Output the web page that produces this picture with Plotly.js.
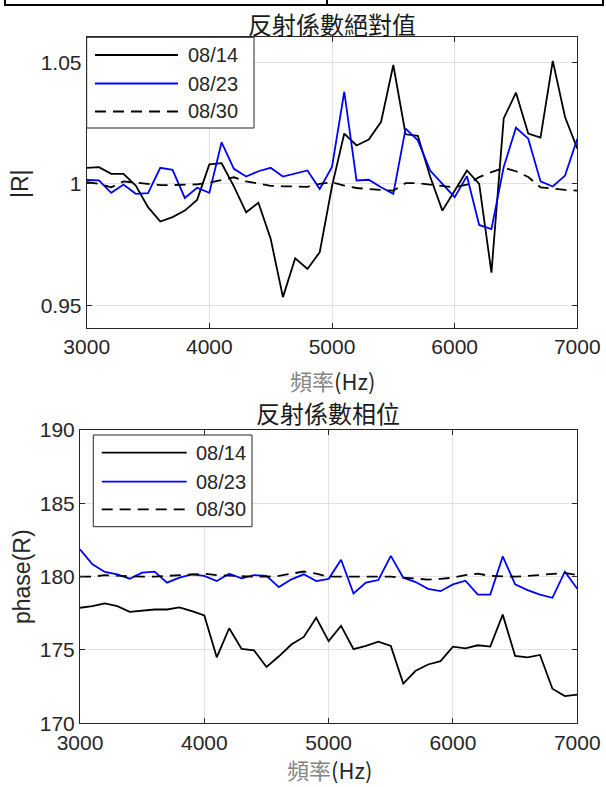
<!DOCTYPE html>
<html>
<head>
<meta charset="utf-8">
<script src="https://cdn.plot.ly/plotly-3.0.1.min.js"></script>
<style>
  html, body { margin: 0; padding: 0; background: #fff; }
  #chart { width: 606px; height: 787px; }
</style>
</head>
<body>
<div id="chart"></div>
<script>
// Frequency grid (Hz)
const freq = [3000, 3100, 3200, 3300, 3400, 3500, 3600, 3700, 3800, 3900,
              4000, 4100, 4200, 4300, 4400, 4500, 4600, 4700, 4800, 4900,
              5000, 5100, 5200, 5300, 5400, 5500, 5600, 5700, 5800, 5900,
              6000, 6100, 6200, 6300, 6400, 6500, 6600, 6700, 6800, 6900, 7000];

// Measurement dates
const seriesNames = ['08/14', '08/23', '08/30'];

// |R| : magnitude of the reflection coefficient
const magR_0814 = [1.0066, 1.0069, 1.0041, 1.0041, 0.9993, 0.9904, 0.9845, 0.9863, 0.9890, 0.9934,
                   1.0080, 1.0085, 0.9990, 0.9883, 0.9922, 0.9774, 0.9534, 0.9694, 0.9650, 0.9719,
                   0.9990, 1.0207, 1.0158, 1.0182, 1.0255, 1.0489, 1.0204, 1.0198, 1.0030, 0.9890,
                   0.9972, 1.0055, 1.0000, 0.9635, 1.0269, 1.0375, 1.0207, 1.0190, 1.0506, 1.0275, 1.0145];
const magR_0823 = [1.0016, 1.0014, 0.9963, 0.9997, 0.9959, 0.9962, 1.0066, 1.0058, 0.9942, 0.9984,
                   0.9963, 1.0171, 1.0062, 1.0030, 1.0052, 1.0066, 1.0030, 1.0041, 1.0055, 0.9979,
                   1.0070, 1.0379, 1.0014, 1.0017, 0.9986, 0.9959, 1.0227, 1.0179, 1.0055, 1.0000,
                   0.9945, 1.0032, 0.9831, 0.9814, 1.0069, 1.0231, 1.0186, 1.0010, 0.9989, 1.0034, 1.0186];
const magR_0830 = [1.0007, 1.0000, 0.9986, 1.0010, 1.0005, 1.0000, 0.9995, 0.9995, 0.9995, 0.9998,
                   1.0005, 1.0016, 1.0027, 1.0010, 1.0002, 0.9992, 0.9990, 0.9988, 0.9988, 1.0000,
                   1.0007, 0.9993, 0.9983, 0.9979, 0.9975, 0.9972, 1.0003, 1.0003, 0.9997, 0.9993,
                   0.9986, 0.9997, 1.0028, 1.0048, 1.0066, 1.0052, 1.0028, 0.9986, 0.9979, 0.9975, 0.9972];

// phase(R) in degrees
const phaseR_0814 = [177.88, 177.99, 178.17, 177.99, 177.60, 177.67, 177.76, 177.76, 177.90, 177.65,
                     177.35, 174.50, 176.48, 175.07, 174.98, 173.84, 174.57, 175.37, 175.89, 177.19,
                     175.60, 176.65, 175.05, 175.28, 175.57, 175.28, 172.71, 173.58, 174.01, 174.24,
                     175.23, 175.11, 175.32, 175.23, 177.41, 174.59, 174.50, 174.66, 172.36, 171.86, 171.95];
const phaseR_0823 = [181.86, 180.84, 180.32, 180.16, 179.86, 180.27, 180.34, 179.59, 179.93, 180.16,
                     180.05, 179.70, 180.20, 179.89, 180.11, 180.05, 179.29, 179.82, 180.16, 179.70,
                     179.85, 181.15, 178.85, 179.59, 179.77, 181.42, 179.93, 179.63, 179.17, 179.01,
                     179.47, 179.72, 178.78, 178.78, 181.38, 179.47, 179.08, 178.78, 178.56, 180.34, 179.17];
const phaseR_0830 = [180.00, 180.00, 180.10, 180.05, 180.00, 180.00, 180.00, 180.05, 180.10, 180.15,
                     180.20, 180.10, 180.05, 180.00, 180.00, 180.00, 180.05, 180.20, 180.35, 180.20,
                     180.00, 180.00, 180.00, 180.00, 180.00, 180.00, 179.93, 179.85, 179.80, 179.85,
                     179.93, 180.10, 180.20, 180.05, 180.00, 180.00, 180.05, 180.10, 180.20, 180.25, 180.10];

// Axis ticks
const xTicks = [3000, 4000, 5000, 6000, 7000];
const magTicks = [0.95, 1, 1.05];
const magTickText = ['0.95', '1', '1.05'];
const phaseTicks = [170, 175, 180, 185, 190];

// Titles and labels
const titleMag = '反射係數絕對值';
const titlePhase = '反射係數相位';
const xLabel = '<span style="color:#858585">頻率</span>(Hz)';
const yLabelMag = '|R|';
const yLabelPhase = 'phase(R)';

// ---- styling / placement helpers ----
const W = 606, H = 787;
const px = v => v / W;          // pixel column -> paper x
const py = v => 1 - v / H;      // pixel row    -> paper y

const lineStyles = [
  { color: '#000000', width: 1.8, dash: 'solid' },
  { color: '#0000ff', width: 1.8, dash: 'solid' },
  { color: '#000000', width: 1.8, dash: '11px,7px' }
];

const magSeries = [magR_0814, magR_0823, magR_0830];
const phaseSeries = [phaseR_0814, phaseR_0823, phaseR_0830];

const traces = [];
magSeries.forEach((ys, i) => {
  traces.push({ x: freq, y: ys, xaxis: 'x', yaxis: 'y', type: 'scatter', mode: 'lines',
                name: seriesNames[i], line: lineStyles[i], hoverinfo: 'skip' });
});
phaseSeries.forEach((ys, i) => {
  traces.push({ x: freq, y: ys, xaxis: 'x2', yaxis: 'y2', type: 'scatter', mode: 'lines',
                name: seriesNames[i], line: lineStyles[i], hoverinfo: 'skip' });
});

const axisCommon = {
  showline: true, mirror: 'ticks', linecolor: '#262626', linewidth: 1,
  ticks: 'inside', ticklen: 5, tickcolor: '#262626', tickwidth: 1,
  showgrid: true, gridcolor: '#e2e2e2', gridwidth: 1, zeroline: false,
  tickfont: { family: 'Liberation Sans, Arial, sans-serif', size: 21, color: '#262626' },
  fixedrange: true
};

// Box-style legend drawn inside each panel
function legendShapes(box, lineX0, lineX1, rows) {
  const s = [{
    type: 'rect', xref: 'paper', yref: 'paper',
    x0: px(box[0]), x1: px(box[1]), y0: py(box[3]), y1: py(box[2]),
    line: { color: '#262626', width: 1 }, fillcolor: '#ffffff', layer: 'above'
  }];
  rows.forEach((ry, i) => {
    s.push({ type: 'line', xref: 'paper', yref: 'paper',
             x0: px(lineX0), x1: px(lineX1), y0: py(ry), y1: py(ry),
             line: { color: lineStyles[i].color, width: 1.8, dash: lineStyles[i].dash }, layer: 'above' });
  });
  return s;
}
function legendLabels(textX, rows) {
  return rows.map((ry, i) => ({
    xref: 'paper', yref: 'paper', x: px(textX), y: py(ry), xanchor: 'left', yanchor: 'middle',
    text: seriesNames[i], showarrow: false,
    font: { family: 'Liberation Sans, Arial, sans-serif', size: 20, color: '#262626' }
  }));
}

const topRows = [55, 83.5, 111.5];
const botRows = [452.7, 481.7, 509.3];

const shapes = [
  // header frame strip
  { type: 'rect', xref: 'paper', yref: 'paper', x0: px(5), x1: px(603), y0: py(5), y1: 1.05,
    line: { color: '#000000', width: 2 }, fillcolor: 'rgba(0,0,0,0)' },
  { type: 'line', xref: 'paper', yref: 'paper', x0: px(327), x1: px(327), y0: py(5), y1: 1.05,
    line: { color: '#000000', width: 2 } }
].concat(legendShapes([86.7, 254, 37.3, 128], 95, 178, topRows))
 .concat(legendShapes([93.3, 252, 435, 526.7], 101.7, 186.7, botRows));

const cjk = 'Noto Sans CJK TC, Liberation Sans, Arial, sans-serif';
const annotations = [
  { xref: 'paper', yref: 'paper', x: px(332), y: py(23), xanchor: 'center', yanchor: 'middle',
    text: titleMag, showarrow: false, font: { family: cjk, size: 24, color: '#1a1a1a' } },
  { xref: 'paper', yref: 'paper', x: px(328), y: py(412), xanchor: 'center', yanchor: 'middle',
    text: titlePhase, showarrow: false, font: { family: cjk, size: 24, color: '#1a1a1a' } },
  { xref: 'paper', yref: 'paper', x: px(332), y: py(380), xanchor: 'center', yanchor: 'middle',
    text: xLabel, showarrow: false, font: { family: cjk, size: 22, color: '#262626' } },
  { xref: 'paper', yref: 'paper', x: px(329), y: 0, xanchor: 'center', yanchor: 'bottom',
    text: xLabel, showarrow: false, font: { family: cjk, size: 22, color: '#262626' } },
  { xref: 'paper', yref: 'paper', x: px(20), y: py(183), xanchor: 'center', yanchor: 'middle',
    text: yLabelMag, textangle: -90, showarrow: false,
    font: { family: 'Liberation Sans, Arial, sans-serif', size: 23, color: '#262626' } },
  { xref: 'paper', yref: 'paper', x: px(22), y: py(577), xanchor: 'center', yanchor: 'middle',
    text: yLabelPhase, textangle: -90, showarrow: false,
    font: { family: 'Liberation Sans, Arial, sans-serif', size: 23, color: '#262626' } }
].concat(legendLabels(186, topRows)).concat(legendLabels(194, botRows));

const layout = {
  width: W, height: H,
  margin: { l: 0, r: 0, t: 0, b: 0, pad: 0 },
  paper_bgcolor: '#ffffff', plot_bgcolor: '#ffffff',
  showlegend: false,
  font: { family: 'Liberation Sans, Arial, sans-serif', color: '#262626', size: 21 },
  xaxis: Object.assign({}, axisCommon, {
    domain: [px(86.7), px(577.3)], anchor: 'y', range: [3000, 7000],
    tickmode: 'array', tickvals: xTicks, ticktext: xTicks.map(String)
  }),
  yaxis: Object.assign({}, axisCommon, {
    domain: [py(328), py(37.3)], anchor: 'x', range: [0.9407, 1.0603],
    tickmode: 'array', tickvals: magTicks, ticktext: magTickText
  }),
  xaxis2: Object.assign({}, axisCommon, {
    domain: [px(80), px(577.3)], anchor: 'y2', range: [3000, 7000],
    tickmode: 'array', tickvals: xTicks, ticktext: xTicks.map(String)
  }),
  yaxis2: Object.assign({}, axisCommon, {
    domain: [py(723.3), py(430)], anchor: 'x2', range: [170, 190],
    tickmode: 'array', tickvals: phaseTicks, ticktext: phaseTicks.map(String)
  }),
  shapes: shapes,
  annotations: annotations
};

Plotly.newPlot('chart', traces, layout, { displayModeBar: false, staticPlot: true });
</script>
</body>
</html>
